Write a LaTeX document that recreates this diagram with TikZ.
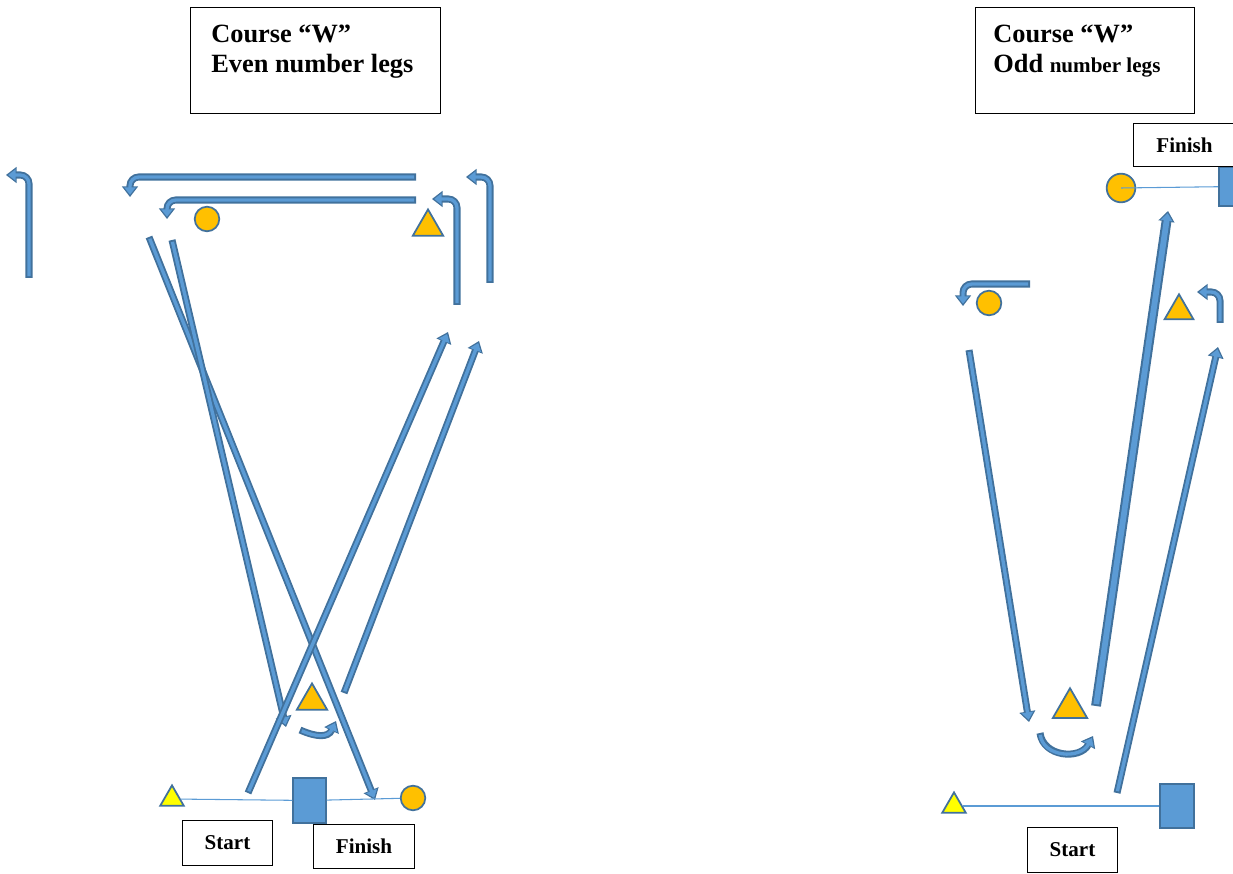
\documentclass[tikz,border=0pt]{standalone}
\usepackage{fontspec}
\setmainfont{Liberation Serif}
\usepackage{tikz}
\usetikzlibrary{arrows.meta,shapes.geometric}

\definecolor{legfill}{HTML}{5B9BD5}
\definecolor{legedge}{HTML}{41719C}
\definecolor{markorange}{HTML}{FFC000}
\definecolor{markyellow}{HTML}{FFFF00}

\tikzset{
  legout/.style={draw=legedge, line width=4pt,
    -{Triangle[width=9pt,length=6pt,line width=1pt 0 1,fill=legfill]}},
  legin/.style={draw=legfill, line width=1.9pt, shorten <=1.1pt, shorten >=1.3pt,
    -{Triangle[width=6.4pt,length=4.2pt]}},
  legwidth/.style 2 args={legout/.append style={line width=#1}, legin/.append style={line width=#2}},
  buoy/.style={circle, draw=legedge, fill=markorange, line width=1pt, inner sep=0pt, minimum size=14pt},
  tri/.style={regular polygon, regular polygon sides=3, draw=legedge, fill=markorange, line width=1pt, inner sep=0pt, minimum size=20pt},
  pin/.style={tri, fill=markyellow, minimum size=15.5pt},
  boat/.style={rectangle, draw=legedge, fill=legfill, line width=1pt, inner sep=0pt, minimum width=18.5pt, minimum height=25.3pt},
  tag/.style={rectangle, draw=black, line width=0.6pt, fill=white, inner sep=0pt, minimum height=25.5pt, font=\bfseries\fontsize{12}{14}\selectfont},
  titlebox/.style={rectangle, draw=black, line width=0.6pt, inner sep=0pt},
  heading/.style={anchor=base west, inner sep=0pt, font=\bfseries\fontsize{15}{17}\selectfont},
  startline/.style={draw=legfill, line width=0.6pt}
}
\newcommand{\courseleg}[2][]{%
  \draw[#1,legout] #2;
  \draw[#1,legin] #2;}

\begin{document}
\begin{tikzpicture}[x=0.02cm,y=-0.02cm]
\useasboundingbox (0,0) rectangle (1233,874);
\clip (0,0) rectangle (1233,874);
% even number of legs
\node[titlebox, minimum width=142.3pt, minimum height=60.7pt] (evenbox) at (315.5,60.5) {};
\node[heading] (even1) at (211,43) {Course “W”};
\node[heading] (even2) at (211,73) {Even number legs};
\courseleg{(29,278) [rounded corners=5pt] -- (29,175) -- (6,175)}
\courseleg{(416,177) [rounded corners=5pt] -- (130,177) -- (130,197)}
\courseleg{(416,200) [rounded corners=5pt] -- (167,200) -- (167,219)}
\courseleg{(457,305) [rounded corners=5pt] -- (457,199) -- (432,199)}
\courseleg{(490,283) [rounded corners=5pt] -- (490,177) -- (466,177)}
\courseleg{(149,237) -- (375,800)}
\courseleg{(172,240) -- (286,727)}
\courseleg{(248,793) -- (448,332)}
\courseleg{(344,693) -- (479,341)}
\courseleg{(300,730) .. controls (316,737) and (328,738) .. (336,721)}
\node[buoy] (topL) at (207,219) {};
\node[tri] (wingL) at (428,227) {};
\node[tri] (gateL) at (312,701) {};
\node[pin] (pinL) at (172,799) {};
\node[boat] (boatL) at (309.5,800.5) {};
\node[buoy] (finL) at (413,798) {};
\draw[startline] (pinL) -- (boatL);
\draw[startline] (boatL) -- (finL);
\node[tag, minimum width=51.6pt] (startL) at (227.5,843) {Start};
\node[tag, minimum width=57.8pt] (finishL) at (364,846.5) {Finish};
% odd number of legs
\node[titlebox, minimum width=124.7pt, minimum height=60.7pt] (oddbox) at (1085,60.5) {};
\node[heading] (odd1) at (993,43) {Course “W”};
\node[heading] (odd2) at (993,73) {Odd {\fontsize{12}{14}\selectfont number legs}};
\courseleg{(1030,284) [rounded corners=5pt] -- (963,284) -- (963,306)}
\courseleg{(1220,323) [rounded corners=5pt] -- (1220,292) -- (1197,292)}
\courseleg{(969,350) -- (1029,722)}
\courseleg[legwidth={5.6pt}{3.3pt}]{(1096,706) -- (1168,211)}
\courseleg{(1117,793) -- (1218,347)}
\courseleg{(1040,733) .. controls (1043,757) and (1080,760) .. (1093,736)}
\node[buoy] (topR) at (989,303) {};
\node[tri, minimum size=19pt] (wingR) at (1179,311) {};
\node[tri, minimum size=22.5pt] (gateR) at (1070,708) {};
\node[pin] (pinR) at (954,806) {};
\node[boat, minimum width=19.6pt] (boatR) at (1177,806) {};
\draw[startline] (pinR) -- (boatR);
\node[tag, minimum width=51.6pt] (startR) at (1072.5,850) {Start};
\node[buoy, minimum size=16.3pt] (finR) at (1121,188) {};
\node[boat, minimum height=22pt] (boatT) at (1235,186.5) {};
\draw[startline] (finR.center) -- (boatT);
\node[tag, minimum width=58.4pt, minimum height=25pt] (finishR) at (1184.5,145) {Finish};
\end{tikzpicture}
\end{document}
